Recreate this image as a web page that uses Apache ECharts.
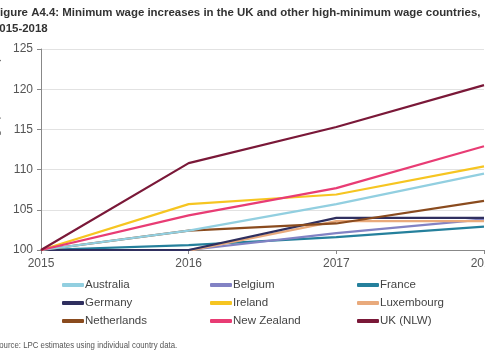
<!DOCTYPE html>
<html><head><meta charset="utf-8">
<script src="https://cdn.jsdelivr.net/npm/echarts@6/dist/echarts.min.js"></script>
<style>html,body{margin:0;padding:0;background:#fff}#c{width:485px;height:360px}</style>
</head><body><div id="c"></div>
<script>
const years = ['2015','2016','2017','2018'];
const australia   = [100, 102.4, 105.7, 109.5];
const belgium     = [100, 100.0, 102.1, 103.8];
const france      = [100, 100.6, 101.6, 102.9];
const germany     = [100, 100.0, 104.0, 104.0];
const ireland     = [100, 105.7, 106.9, 110.4];
const luxembourg  = [100, 99.9, 103.6, 103.6];
const netherlands = [100, 102.4, 103.3, 106.1];
const newZealand  = [100, 104.3, 107.7, 112.9];
const uk          = [100, 110.8, 115.3, 120.5];
const yTicks = [100, 105, 110, 115, 120, 125];

const seriesDefs = [
  ['Australia', australia, '#92cfe0'],
  ['Belgium', belgium, '#8282c4'],
  ['France', france, '#25809c'],
  ['Germany', germany, '#2f2f5f'],
  ['Ireland', ireland, '#f6c521'],
  ['Luxembourg', luxembourg, '#e9aa7c'],
  ['Netherlands', netherlands, '#8a4b1e'],
  ['New Zealand', newZealand, '#e83c74'],
  ['UK (NLW)', uk, '#7a1838']
];
const drawOrder = ['France','Belgium','Luxembourg','Germany','Netherlands','Australia','Ireland','New Zealand','UK (NLW)'];

const chart = echarts.init(document.getElementById('c'));
const legendBase = {
  orient: 'vertical', top: 278, padding: 0, itemWidth: 22, itemHeight: 4, itemGap: 4,
  icon: 'roundRect',
  textStyle: {fontFamily: 'Liberation Sans', fontSize: 11.5, color: '#444', lineHeight: 14, padding: [0,0,0,-4]}
};
chart.setOption({
  animation: false,
  textStyle: {fontFamily: 'Liberation Sans'},
  grid: {left: 41, right: 1, top: 49, bottom: 110, outerBoundsMode: 'none', containLabel: false},
  graphic: [
    {type: 'text', left: -7, top: 5, style: {text: 'Figure A4.4: Minimum wage increases in the UK and other high-minimum wage countries,\n2015-2018', font: 'bold 11.45px "Liberation Sans"', fill: '#333', lineHeight: 16}},
    {type: 'text', x: -6, y: 341, scaleX: 0.87, style: {text: 'Source: LPC estimates using individual country data.', font: '9px "Liberation Sans"', fill: '#555'}}
  ],
  legend: [
    Object.assign({left: 62, data: ['Australia','Germany','Netherlands']}, legendBase),
    Object.assign({left: 210, data: ['Belgium','Ireland','New Zealand']}, legendBase),
    Object.assign({left: 357, data: ['France','Luxembourg','UK (NLW)']}, legendBase)
  ],
  xAxis: {
    type: 'category', data: years, boundaryGap: false,
    axisLine: {lineStyle: {color: '#888'}},
    axisTick: {show: true, length: 4, lineStyle: {color: '#888'}},
    axisLabel: {color: '#555', fontSize: 12, margin: 8}
  },
  yAxis: {
    type: 'value', min: 100, max: 125, interval: 5,
    name: 'Nominal minimum wage (2015 = 100)', nameLocation: 'middle', nameGap: 40,
    nameTextStyle: {color: '#555', fontSize: 11},
    axisLine: {show: true, lineStyle: {color: '#888'}},
    axisTick: {show: true, length: 4, lineStyle: {color: '#888'}},
    axisLabel: {color: '#555', fontSize: 12, margin: 8},
    splitLine: {lineStyle: {color: '#e2e2e2'}}
  },
  series: drawOrder.map((n, i) => {
    const d = seriesDefs.find(s => s[0] === n);
    return {name: d[0], type: 'line', data: d[1], symbol: 'none', z: 2 + i,
      lineStyle: {width: 2.2, color: d[2]}, itemStyle: {color: d[2]}};
  })
});
</script></body></html>
